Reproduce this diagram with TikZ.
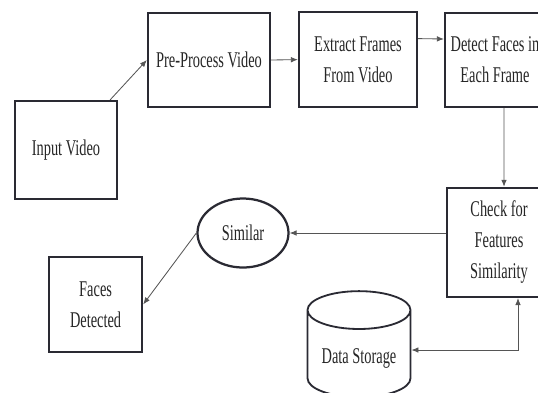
\documentclass[tikz,border=0pt]{standalone}
\usepackage{fontspec}
\setmainfont{Liberation Serif}[FakeStretch=0.64]
\usetikzlibrary{arrows.meta,positioning,shapes.geometric}
\definecolor{VidEdge}{HTML}{2A2A33}
\definecolor{VidText}{HTML}{262626}
\definecolor{VidLine}{HTML}{555555}

\begin{document}
\begin{tikzpicture}[
  box/.style={draw=VidEdge,line width=1.6pt,fill=white,text=VidText,align=center,inner sep=2pt,font=\fontsize{16}{22}\selectfont},
  oval/.style={ellipse,draw=VidEdge,line width=1.6pt,text=VidText,inner sep=0pt,font=\fontsize{16}{22}\selectfont},
  store/.style={cylinder,shape border rotate=90,draw=VidEdge,line width=1.3pt,text=VidText,aspect=0.45,font=\fontsize{16}{22}\selectfont},
  arr/.style={draw=VidLine,line width=0.6pt,-{Latex[length=5pt,width=4pt]}},
  arrs/.style={draw=VidLine,line width=0.6pt,{Latex[length=5pt,width=4pt]}-{Latex[length=5pt,width=4pt]}}
]
\clip (0,0) rectangle (13.45,-9.8);
% top row of processing steps
\node[box,minimum width=2.55cm,minimum height=2.45cm] (input) at (1.65,-3.75) {Input Video};
\node[box,minimum width=3.05cm,minimum height=2.35cm] (pre) at (5.225,-1.5) {Pre-Process Video};
\node[box,minimum width=2.95cm,minimum height=2.375cm] (extract) at (8.95,-1.49) {Extract Frames\\From Video};
\node[box,minimum width=2.5cm,minimum height=2.35cm] (detect) at (12.375,-1.5) {Detect Faces in\\Each Frame};
% matching and result
\node[box,minimum width=2.6cm,minimum height=2.725cm] (check) at (12.475,-6.06) {Check for\\Features\\Similarity};
\node[oval,minimum width=2.275cm,minimum height=1.725cm] (similar) at (6.075,-5.825) {Similar};
\node[box,minimum width=2.325cm,minimum height=2.375cm] (faces) at (2.39,-7.61) {Faces\\Detected};
\node[store,minimum width=2.575cm,minimum height=2.65cm] (db) at (8.975,-8.95) {Data Storage};
% connectors
\draw[arr] ([xshift=-0.2cm]input.north east) -- (pre.west);
\draw[arr] (pre.east) -- (extract.west);
\draw[arr] ([yshift=0.525cm]extract.east) -- ([yshift=0.525cm]detect.west);
\draw[arr] ([xshift=0.225cm]detect.south) -- ([xshift=0.125cm]check.north);
\draw[arr] (check.west |- similar) -- (similar.east);
\draw[arr] (similar.west) -- (faces.east);
\draw[arrs] ([xshift=0.475cm]check.south) |- ([yshift=0.2cm]db.east);
\end{tikzpicture}
\end{document}
